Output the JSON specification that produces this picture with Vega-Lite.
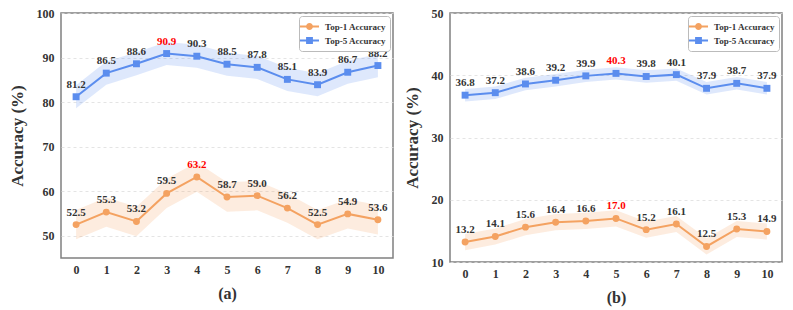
{
  "$schema": "https://vega.github.io/schema/vega-lite/v6.json",
  "padding": {"left": 7, "top": 2, "right": 10, "bottom": 2},
  "spacing": 8,
  "config": {
    "font": "Liberation Serif",
    "view": {"stroke": "#808080", "strokeWidth": 1.5},
    "axis": {
      "labelFont": "Liberation Serif", "labelFontWeight": "bold", "labelFontSize": 12, "labelColor": "#333",
      "titleFont": "Liberation Serif", "titleFontWeight": "bold", "titleFontSize": 17, "titleColor": "#333",
      "domain": false, "ticks": false, "labelPadding": 7,
      "gridColor": "#dddddd", "gridDash": [3, 3], "gridWidth": 0.8
    },
    "legend": {
      "orient": "top-right", "offset": 3, "padding": 4, "strokeColor": "#bbbbbb", "cornerRadius": 3,
      "fillColor": "white", "labelFont": "Liberation Serif", "labelFontSize": 9, "labelFontWeight": "bold",
      "labelColor": "#333", "rowPadding": 1, "symbolSize": 121, "labelOffset": 9, "symbolStrokeWidth": 2
    }
  },
  "datasets": {
    "a": [
      {"x": 0, "s": "Top-1 Accuracy", "v": 52.5, "lo": 49.2, "hi": 55.8, "best": 0},
      {"x": 1, "s": "Top-1 Accuracy", "v": 55.3, "lo": 52.0, "hi": 58.6, "best": 0},
      {"x": 2, "s": "Top-1 Accuracy", "v": 53.2, "lo": 49.9, "hi": 56.5, "best": 0},
      {"x": 3, "s": "Top-1 Accuracy", "v": 59.5, "lo": 56.2, "hi": 62.8, "best": 0},
      {"x": 4, "s": "Top-1 Accuracy", "v": 63.2, "lo": 59.9, "hi": 66.5, "best": 1},
      {"x": 5, "s": "Top-1 Accuracy", "v": 58.7, "lo": 55.4, "hi": 62.0, "best": 0},
      {"x": 6, "s": "Top-1 Accuracy", "v": 59.0, "lo": 55.7, "hi": 62.3, "best": 0},
      {"x": 7, "s": "Top-1 Accuracy", "v": 56.2, "lo": 52.9, "hi": 59.5, "best": 0},
      {"x": 8, "s": "Top-1 Accuracy", "v": 52.5, "lo": 49.2, "hi": 55.8, "best": 0},
      {"x": 9, "s": "Top-1 Accuracy", "v": 54.9, "lo": 51.6, "hi": 58.2, "best": 0},
      {"x": 10, "s": "Top-1 Accuracy", "v": 53.6, "lo": 50.3, "hi": 56.9, "best": 0},
      {"x": 0, "s": "Top-5 Accuracy", "v": 81.2, "lo": 78.6, "hi": 83.8, "best": 0},
      {"x": 1, "s": "Top-5 Accuracy", "v": 86.5, "lo": 83.9, "hi": 89.1, "best": 0},
      {"x": 2, "s": "Top-5 Accuracy", "v": 88.6, "lo": 86.0, "hi": 91.2, "best": 0},
      {"x": 3, "s": "Top-5 Accuracy", "v": 90.9, "lo": 88.3, "hi": 93.5, "best": 1},
      {"x": 4, "s": "Top-5 Accuracy", "v": 90.3, "lo": 87.7, "hi": 92.9, "best": 0},
      {"x": 5, "s": "Top-5 Accuracy", "v": 88.5, "lo": 85.9, "hi": 91.1, "best": 0},
      {"x": 6, "s": "Top-5 Accuracy", "v": 87.8, "lo": 85.2, "hi": 90.4, "best": 0},
      {"x": 7, "s": "Top-5 Accuracy", "v": 85.1, "lo": 82.5, "hi": 87.7, "best": 0},
      {"x": 8, "s": "Top-5 Accuracy", "v": 83.9, "lo": 81.3, "hi": 86.5, "best": 0},
      {"x": 9, "s": "Top-5 Accuracy", "v": 86.7, "lo": 84.1, "hi": 89.3, "best": 0},
      {"x": 10, "s": "Top-5 Accuracy", "v": 88.2, "lo": 85.6, "hi": 90.8, "best": 0}
    ],
    "b": [
      {"x": 0, "s": "Top-1 Accuracy", "v": 13.2, "lo": 11.9, "hi": 14.5, "best": 0},
      {"x": 1, "s": "Top-1 Accuracy", "v": 14.1, "lo": 12.8, "hi": 15.4, "best": 0},
      {"x": 2, "s": "Top-1 Accuracy", "v": 15.6, "lo": 14.3, "hi": 16.9, "best": 0},
      {"x": 3, "s": "Top-1 Accuracy", "v": 16.4, "lo": 15.1, "hi": 17.7, "best": 0},
      {"x": 4, "s": "Top-1 Accuracy", "v": 16.6, "lo": 15.3, "hi": 17.9, "best": 0},
      {"x": 5, "s": "Top-1 Accuracy", "v": 17.0, "lo": 15.7, "hi": 18.3, "best": 1},
      {"x": 6, "s": "Top-1 Accuracy", "v": 15.2, "lo": 13.9, "hi": 16.5, "best": 0},
      {"x": 7, "s": "Top-1 Accuracy", "v": 16.1, "lo": 14.8, "hi": 17.4, "best": 0},
      {"x": 8, "s": "Top-1 Accuracy", "v": 12.5, "lo": 11.2, "hi": 13.8, "best": 0},
      {"x": 9, "s": "Top-1 Accuracy", "v": 15.3, "lo": 14.0, "hi": 16.6, "best": 0},
      {"x": 10, "s": "Top-1 Accuracy", "v": 14.9, "lo": 13.6, "hi": 16.2, "best": 0},
      {"x": 0, "s": "Top-5 Accuracy", "v": 36.8, "lo": 35.8, "hi": 37.8, "best": 0},
      {"x": 1, "s": "Top-5 Accuracy", "v": 37.2, "lo": 36.2, "hi": 38.2, "best": 0},
      {"x": 2, "s": "Top-5 Accuracy", "v": 38.6, "lo": 37.6, "hi": 39.6, "best": 0},
      {"x": 3, "s": "Top-5 Accuracy", "v": 39.2, "lo": 38.2, "hi": 40.2, "best": 0},
      {"x": 4, "s": "Top-5 Accuracy", "v": 39.9, "lo": 38.9, "hi": 40.9, "best": 0},
      {"x": 5, "s": "Top-5 Accuracy", "v": 40.3, "lo": 39.3, "hi": 41.3, "best": 1},
      {"x": 6, "s": "Top-5 Accuracy", "v": 39.8, "lo": 38.8, "hi": 40.8, "best": 0},
      {"x": 7, "s": "Top-5 Accuracy", "v": 40.1, "lo": 39.1, "hi": 41.1, "best": 0},
      {"x": 8, "s": "Top-5 Accuracy", "v": 37.9, "lo": 36.9, "hi": 38.9, "best": 0},
      {"x": 9, "s": "Top-5 Accuracy", "v": 38.7, "lo": 37.7, "hi": 39.7, "best": 0},
      {"x": 10, "s": "Top-5 Accuracy", "v": 37.9, "lo": 36.9, "hi": 38.9, "best": 0}
    ]
  },
  "resolve": {"scale": {"x": "independent", "y": "independent", "color": "independent", "fill": "independent", "shape": "independent"}, "legend": {"color": "independent", "fill": "independent", "shape": "independent"}},
  "hconcat": [
    {
      "title": {"text": " ", "fontSize": 4, "offset": 0},
      "width": 332, "height": 245,
      "data": {"name": "a"},
      "encoding": {
        "x": {"field": "x", "type": "quantitative", "scale": {"domain": [-0.5, 10.5], "nice": false}, "axis": {"values": [0,1,2,3,4,5,6,7,8,9,10], "grid": false, "title": "(a)", "titleFontSize": 16, "titlePadding": 10, "labelPadding": 6}}
      },
      "layer": [
        {"transform": [{"filter": "datum.s == 'Top-1 Accuracy'"}], "mark": {"type": "area", "color": "#F4A261", "opacity": 0.2},
         "encoding": {"y": {"field": "lo", "type": "quantitative", "scale": {"domain": [45, 100], "nice": false}, "axis": {"values": [50,60,70,80,90,100], "title": "Accuracy (%)", "titlePadding": 10}}, "y2": {"field": "hi"}}},
        {"transform": [{"filter": "datum.s == 'Top-5 Accuracy'"}], "mark": {"type": "area", "color": "#5B8DEE", "opacity": 0.2},
         "encoding": {"y": {"field": "lo", "type": "quantitative"}, "y2": {"field": "hi"}}},
        {"transform": [{"filter": "datum.s == 'Top-1 Accuracy'"}], "mark": {"type": "line", "color": "#F4A261", "strokeWidth": 2},
         "encoding": {"y": {"field": "v", "type": "quantitative"}}},
        {"transform": [{"filter": "datum.s == 'Top-5 Accuracy'"}], "mark": {"type": "line", "color": "#5B8DEE", "strokeWidth": 2},
         "encoding": {"y": {"field": "v", "type": "quantitative"}}},
        {"transform": [{"filter": "datum.s == 'Top-1 Accuracy'"}], "mark": {"type": "point", "shape": "circle", "filled": true, "opacity": 1, "color": "#F4A261", "size": 48},
         "encoding": {"y": {"field": "v", "type": "quantitative"}}},
        {"transform": [{"filter": "datum.s == 'Top-5 Accuracy'"}], "mark": {"type": "point", "shape": "square", "filled": true, "opacity": 1, "color": "#5B8DEE", "size": 48},
         "encoding": {"y": {"field": "v", "type": "quantitative"}}},
        {"transform": [{"filter": "datum.x < 0"}], "mark": {"type": "point", "filled": false, "opacity": 1, "strokeWidth": 2, "size": 121},
         "encoding": {
           "y": {"field": "v", "type": "quantitative"},
           "color": {"field": "s", "type": "nominal", "scale": {"domain": ["Top-1 Accuracy", "Top-5 Accuracy"], "range": ["#F4A261", "#5B8DEE"]}, "legend": {"title": null}},
           "fill": {"field": "s", "type": "nominal", "scale": {"domain": ["Top-1 Accuracy", "Top-5 Accuracy"], "range": ["#F4A261", "#5B8DEE"]}, "legend": {"title": null}},
           "shape": {"field": "s", "type": "nominal", "scale": {"domain": ["Top-1 Accuracy", "Top-5 Accuracy"], "range": ["M-1.73,0L1.73,0M0.45,0A0.45,0.45,0,1,1,-0.45,0A0.45,0.45,0,1,1,0.45,0Z", "M-1.73,0L1.73,0M-0.44,-0.44L0.44,-0.44L0.44,0.44L-0.44,0.44Z"]}, "legend": {"title": null}}
         }},
        {"mark": {"type": "text", "fontWeight": "bold", "fontSize": 11, "baseline": "bottom", "dy": -7, "font": "Liberation Serif"},
         "encoding": {
           "y": {"field": "v", "type": "quantitative"},
           "text": {"field": "v", "type": "quantitative", "format": ".1f"},
           "color": {"condition": {"test": "datum.best == 1", "value": "#FF0000"}, "value": "#333333"}
         }}
      ]
    },
    {
      "width": 332, "height": 249,
      "data": {"name": "b"},
      "encoding": {
        "x": {"field": "x", "type": "quantitative", "scale": {"domain": [-0.5, 10.5], "nice": false}, "axis": {"values": [0,1,2,3,4,5,6,7,8,9,10], "grid": false, "title": "(b)", "titleFontSize": 16, "titlePadding": 10, "labelPadding": 6}}
      },
      "layer": [
        {"transform": [{"filter": "datum.s == 'Top-1 Accuracy'"}], "mark": {"type": "area", "color": "#F4A261", "opacity": 0.2},
         "encoding": {"y": {"field": "lo", "type": "quantitative", "scale": {"domain": [10, 50], "nice": false}, "axis": {"values": [10,15,20,25,30,35,40,45,50], "title": "Accuracy (%)", "titlePadding": 10}}, "y2": {"field": "hi"}}},
        {"transform": [{"filter": "datum.s == 'Top-5 Accuracy'"}], "mark": {"type": "area", "color": "#5B8DEE", "opacity": 0.2},
         "encoding": {"y": {"field": "lo", "type": "quantitative"}, "y2": {"field": "hi"}}},
        {"transform": [{"filter": "datum.s == 'Top-1 Accuracy'"}], "mark": {"type": "line", "color": "#F4A261", "strokeWidth": 2},
         "encoding": {"y": {"field": "v", "type": "quantitative"}}},
        {"transform": [{"filter": "datum.s == 'Top-5 Accuracy'"}], "mark": {"type": "line", "color": "#5B8DEE", "strokeWidth": 2},
         "encoding": {"y": {"field": "v", "type": "quantitative"}}},
        {"transform": [{"filter": "datum.s == 'Top-1 Accuracy'"}], "mark": {"type": "point", "shape": "circle", "filled": true, "opacity": 1, "color": "#F4A261", "size": 48},
         "encoding": {"y": {"field": "v", "type": "quantitative"}}},
        {"transform": [{"filter": "datum.s == 'Top-5 Accuracy'"}], "mark": {"type": "point", "shape": "square", "filled": true, "opacity": 1, "color": "#5B8DEE", "size": 48},
         "encoding": {"y": {"field": "v", "type": "quantitative"}}},
        {"transform": [{"filter": "datum.x < 0"}], "mark": {"type": "point", "filled": false, "opacity": 1, "strokeWidth": 2, "size": 121},
         "encoding": {
           "y": {"field": "v", "type": "quantitative"},
           "color": {"field": "s", "type": "nominal", "scale": {"domain": ["Top-1 Accuracy", "Top-5 Accuracy"], "range": ["#F4A261", "#5B8DEE"]}, "legend": {"title": null}},
           "fill": {"field": "s", "type": "nominal", "scale": {"domain": ["Top-1 Accuracy", "Top-5 Accuracy"], "range": ["#F4A261", "#5B8DEE"]}, "legend": {"title": null}},
           "shape": {"field": "s", "type": "nominal", "scale": {"domain": ["Top-1 Accuracy", "Top-5 Accuracy"], "range": ["M-1.73,0L1.73,0M0.45,0A0.45,0.45,0,1,1,-0.45,0A0.45,0.45,0,1,1,0.45,0Z", "M-1.73,0L1.73,0M-0.44,-0.44L0.44,-0.44L0.44,0.44L-0.44,0.44Z"]}, "legend": {"title": null}}
         }},
        {"mark": {"type": "text", "fontWeight": "bold", "fontSize": 11, "baseline": "bottom", "dy": -7, "font": "Liberation Serif"},
         "encoding": {
           "y": {"field": "v", "type": "quantitative"},
           "text": {"field": "v", "type": "quantitative", "format": ".1f"},
           "color": {"condition": {"test": "datum.best == 1", "value": "#FF0000"}, "value": "#333333"}
         }}
      ]
    }
  ]
}
